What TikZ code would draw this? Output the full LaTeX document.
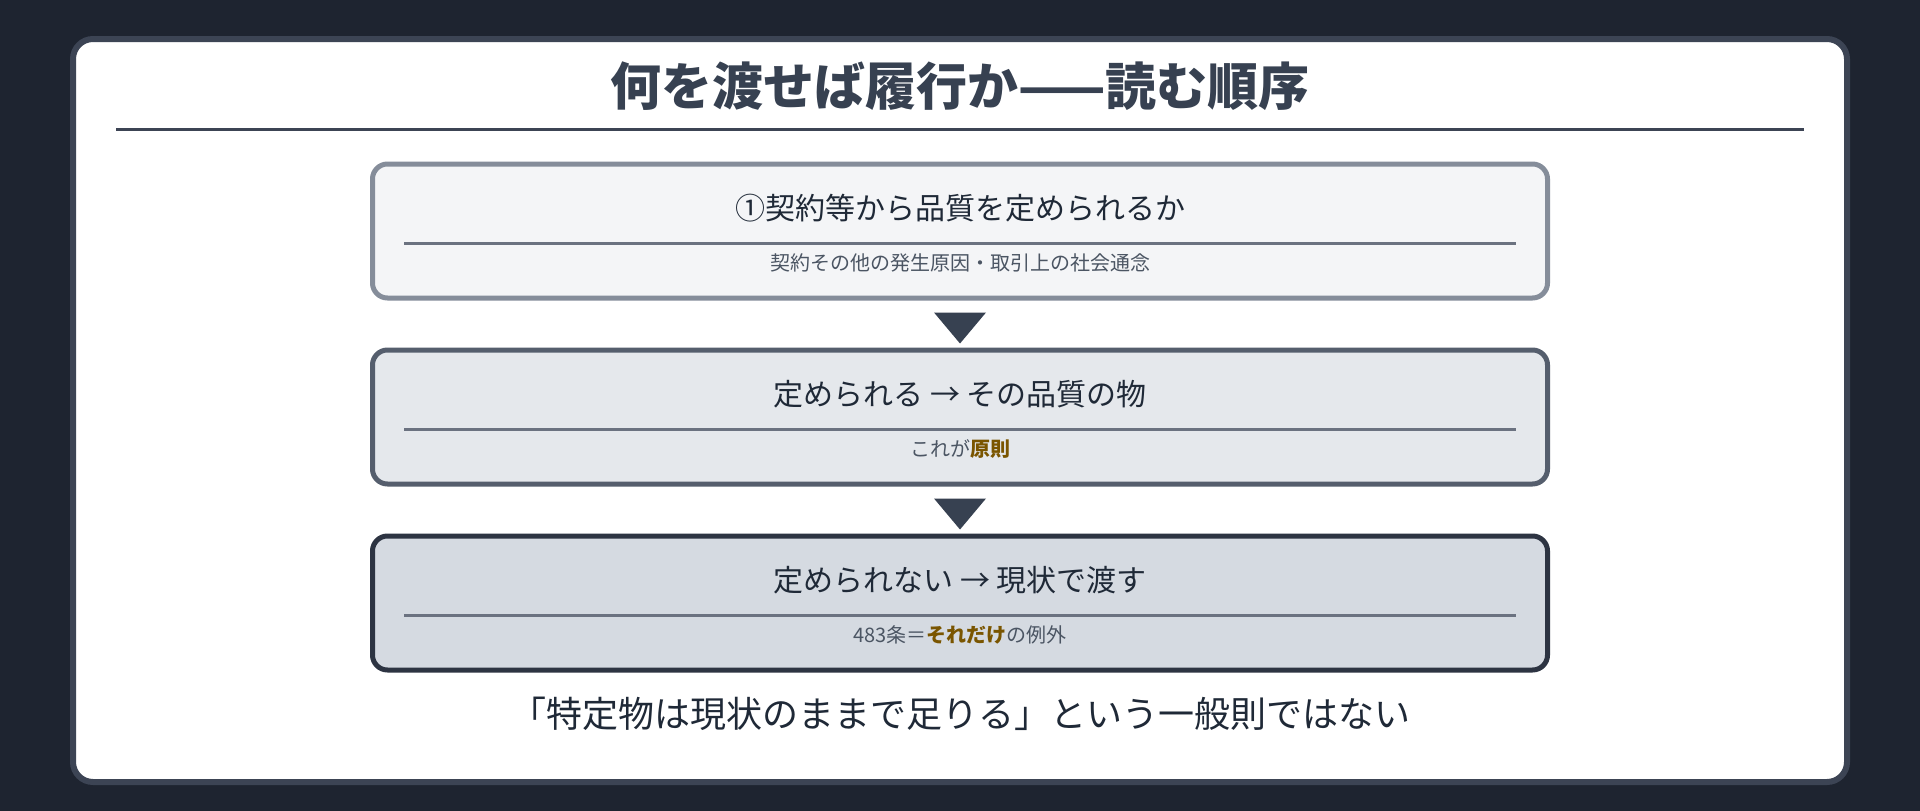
\documentclass[tikz,border=0pt]{standalone}
\usepackage{fontspec}
\setmainfont{Noto Sans CJK JP}
\usetikzlibrary{calc}

\definecolor{pagebg}{HTML}{1E2430}
\definecolor{cardline}{HTML}{3C4454}
\definecolor{titlecol}{HTML}{374151}
\definecolor{headcol}{HTML}{1F2937}
\definecolor{subcol}{HTML}{4B5563}
\definecolor{hlcol}{HTML}{7A5500}
\definecolor{ruleA}{HTML}{6B7280}
\definecolor{lineA}{HTML}{858D9A}
\definecolor{lineB}{HTML}{555E6D}
\definecolor{lineC}{HTML}{2D3442}
\definecolor{fillA}{HTML}{F4F5F7}
\definecolor{fillB}{HTML}{E5E8EC}
\definecolor{fillC}{HTML}{D5DAE1}

\tikzset{
  stepbox/.style={draw, rounded corners=15, line width=5, minimum width=1175, minimum height=134, inner sep=0},
  boxhead/.style={text=headcol, font=\fontsize{30}{36}\selectfont, inner sep=0},
  boxsub/.style={text=subcol, font=\fontsize{20}{24}\selectfont, inner sep=0},
  boxrule/.style={draw=ruleA, line width=3},
  downtri/.style={fill=titlecol},
}
\newcommand{\hl}[1]{\textcolor{hlcol}{\textbf{#1}}}

\begin{document}
\begin{tikzpicture}[x=1pt,y=-1pt]
\fill[pagebg] (0,0) rectangle (1920,811);
\useasboundingbox (0,0) rectangle (1920,811);
\node[draw=cardline, fill=white, line width=6, rounded corners=20, minimum width=1774, minimum height=743] (card) at (960,410.5) {};

\node[text=titlecol, font=\fontsize{51}{60}\selectfont\bfseries] (title) at (960,86) {何を渡せば履行か——読む順序};
\draw[cardline, line width=3] (116,129) -- (1804,129);

\node[stepbox, draw=lineA, fill=fillA] (b1) at (960,231) {};
\node[stepbox, draw=lineB, fill=fillB] (b2) at (960,417) {};
\node[stepbox, draw=lineC, fill=fillC] (b3) at (960,603) {};

\node[boxhead] (h1) at ([yshift=23]b1.center) {①契約等から品質を定められるか};
\node[boxhead] (h2) at ([yshift=23]b2.center) {定められる → その品質の物};
\node[boxhead] (h3) at ([yshift=23]b3.center) {定められない → 現状で渡す};

\foreach \b in {b1,b2,b3}
  \draw[boxrule] ([xshift=34,yshift=-12]\b.west) -- ([xshift=-34,yshift=-12]\b.east);

\node[boxsub] (s1) at ([yshift=-32]b1.center) {契約その他の発生原因・取引上の社会通念};
\node[boxsub] (s2) at ([yshift=-32]b2.center) {これが\hl{原則}};
\node[boxsub] (s3) at ([yshift=-32]b3.center) {483条＝\hl{それだけ}の例外};

\fill[downtri] ($(b1.south)+(-26,12)$) -- ($(b1.south)+(26,12)$) -- ($(b1.south)+(0,43)$) -- cycle;
\fill[downtri] ($(b2.south)+(-26,12)$) -- ($(b2.south)+(26,12)$) -- ($(b2.south)+(0,43)$) -- cycle;

\node[text=headcol, font=\fontsize{36}{42}\selectfont, inner sep=0] (note) at (960,714) {「特定物は現状のままで足りる」という一般則ではない};
\end{tikzpicture}
\end{document}
